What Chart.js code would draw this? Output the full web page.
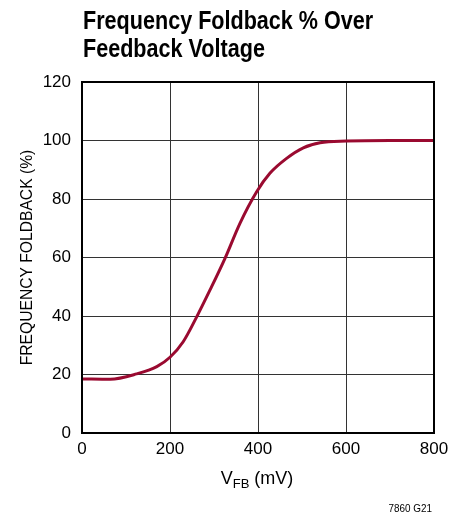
<!DOCTYPE html>
<html>
<head>
<meta charset="utf-8">
<script src="https://cdn.jsdelivr.net/npm/chart.js@4"></script>
<style>
  html, body { margin: 0; padding: 0; background: #fff; }
  #wrap { width: 464px; height: 519px; }
</style>
</head>
<body>
<div id="wrap"><canvas id="chart" width="464" height="519"></canvas></div>
<script>
// values
var vfb = [0, 64, 124, 170, 200, 230, 261, 291, 325, 359, 397, 427, 465, 503, 541, 601, 700, 800];
var foldback = [18.5, 18.4, 20.2, 22.7, 25.9, 31.2, 39.8, 48.9, 59.7, 71.7, 82.5, 88.8, 93.9, 97.5, 99.2, 99.8, 100, 100];
var xTicks = [0, 200, 400, 600, 800];
var yTicks = [0, 20, 40, 60, 80, 100, 120];

var FONT = '"Liberation Sans Narrow", "Liberation Sans", Arial, sans-serif';

// draw text squeezed horizontally to mimic a condensed face
function narrowText(c, txt, x, y, sx) {
  c.save();
  c.translate(x, y);
  c.scale(sx, 1);
  c.fillText(txt, 0, 0);
  c.restore();
}

var textPlugin = {
  id: "textPlugin",
  afterDraw: function (chart) {
    var c = chart.ctx;
    var area = chart.chartArea;
    c.save();
    c.fillStyle = "#000";
    c.textBaseline = "alphabetic";

    // title
    c.font = "bold 26px " + FONT;
    c.textAlign = "left";
    narrowText(c, "Frequency Foldback % Over", 83, 29, 0.83);
    narrowText(c, "Feedback Voltage", 83, 57, 0.83);

    // y axis title
    c.font = "17px " + FONT;
    c.save();
    c.translate(32, (area.top + area.bottom) / 2);
    c.rotate(-Math.PI / 2);
    c.scale(0.92, 1);
    c.textAlign = "center";
    c.fillText("FREQUENCY FOLDBACK (%)", 0, 0);
    c.restore();

    // x axis title with subscript
    var cx = (area.left + area.right) / 2;
    var y = 484;
    var big = "18px " + FONT, small = "13px " + FONT;
    c.font = big;
    var wV = c.measureText("V").width;
    var wRest = c.measureText(" (mV)").width;
    c.font = small;
    var wSub = c.measureText("FB").width;
    var x = cx - (wV + wSub + wRest) / 2 - 1;
    c.textAlign = "left";
    c.font = big;
    c.fillText("V", x, y);
    c.font = small;
    c.fillText("FB", x + wV, y + 4);
    c.font = big;
    c.fillText(" (mV)", x + wV + wSub, y);

    // figure code
    c.font = "11px " + FONT;
    c.textAlign = "right";
    narrowText(c, "7860 G21", 432, 512, 0.9);
    c.restore();
  }
};

new Chart(document.getElementById("chart"), {
  type: "line",
  data: {
    datasets: [
      {
        data: vfb.map(function (v, i) { return { x: v, y: foldback[i] }; }),
        borderColor: "#9a0a30",
        borderWidth: 3,
        pointRadius: 0,
        cubicInterpolationMode: "monotone",
        fill: false,
      },
    ],
  },
  options: {
    responsive: false,
    animation: false,
    layout: { padding: { top: 82, right: 30, left: 0, bottom: 0 } },
    plugins: {
      legend: { display: false },
      tooltip: { enabled: false },
    },
    scales: {
      x: {
        type: "linear",
        min: 0,
        max: 800,
        afterFit: function (s) { s.height = 86; },
        afterBuildTicks: function (s) { s.ticks = xTicks.map(function (v) { return { value: v }; }); },
        grid: { color: "#333", lineWidth: 1, drawTicks: false },
        border: { color: "#000", width: 2 },
        ticks: { color: "#000", padding: 6, font: { family: FONT, size: 17 } },
      },
      y: {
        type: "linear",
        min: 0,
        max: 120,
        afterFit: function (s) { s.width = 82; },
        afterBuildTicks: function (s) { s.ticks = yTicks.map(function (v) { return { value: v }; }); },
        grid: { color: "#333", lineWidth: 1, drawTicks: false },
        border: { color: "#000", width: 2 },
        ticks: { color: "#000", padding: 11, font: { family: FONT, size: 17 } },
      },
    },
  },
  plugins: [
    textPlugin,
    {
      id: "frame",
      afterDatasetsDraw: function (chart) {
        var a = chart.chartArea, c = chart.ctx;
        c.save();
        c.strokeStyle = "#000";
        c.lineWidth = 2;
        c.strokeRect(a.left, a.top, a.right - a.left, a.bottom - a.top);
        c.restore();
      },
    },
  ],
});
</script>
</body>
</html>
